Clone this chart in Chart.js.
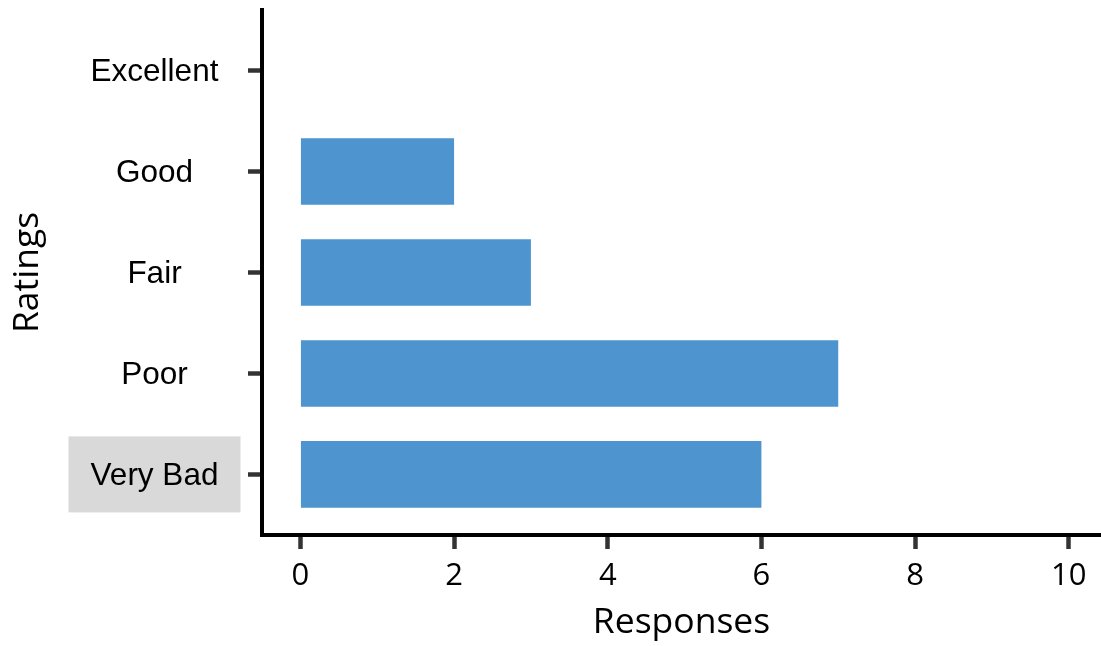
<!DOCTYPE html>
<html>
<head>
<meta charset="UTF-8">
<title>Ratings</title>
<script src="https://cdn.jsdelivr.net/npm/chart.js"></script>
<style>
  html, body { margin: 0; padding: 0; background: #fff; }
  #chart { display: block; }
</style>
</head>
<body>
<canvas id="chart" width="1101" height="646"></canvas>
<script>
// data, top to bottom
const ratings = ['Excellent', 'Good', 'Fair', 'Poor', 'Very Bad'];
const responses = [0, 2, 3, 7, 6];
const xTicks = [0, 2, 4, 6, 8, 10];
const highlighted = 'Very Bad';

const labelFont = { family: 'Liberation Sans, Arial, sans-serif', size: 31.5 };
const numFont = { family: 'Open Sans, sans-serif', size: 31 };
const titleFont = { family: 'Open Sans, sans-serif', size: 35.5 };

// grey box behind the highlighted category label
const highlightBox = {
    id: 'highlightBox',
    beforeDatasetsDraw(chart) {
        const y = chart.scales.y;
        const idx = ratings.indexOf(highlighted);
        if (idx < 0) return;
        const cy = y.getPixelForValue(idx);
        const cx = 154.5;
        const c = chart.ctx;
        c.save();
        c.fillStyle = '#d9d9d9';
        c.fillRect(cx - 86, cy - 38, 172, 76);
        c.restore();
    }
};

// y labels, centred in the label column, drawn over the box
const labelsOnTop = {
    id: 'labelsOnTop',
    afterDraw(chart) {
        const y = chart.scales.y;
        const c = chart.ctx;
        c.save();
        c.font = labelFont.size + 'px ' + labelFont.family;
        c.fillStyle = '#000';
        c.textAlign = 'center';
        c.textBaseline = 'middle';
        ratings.forEach((r, i) => {
            c.fillText(r, 154.5, y.getPixelForValue(i) + 2);
        });
        c.restore();
    }
};

const ctx = document.getElementById('chart').getContext('2d');
new Chart(ctx, {
    type: 'bar',
    data: {
        datasets: [{
            data: ratings.map((r, i) => ({ x: responses[i], y: i })),
            backgroundColor: '#4e94ce',
            borderWidth: 0,
            barPercentage: 0.66,
            categoryPercentage: 1
        }]
    },
    options: {
        indexAxis: 'y',
        responsive: false,
        animation: false,
        layout: { padding: { top: 10, right: 0, bottom: 0, left: 0 } },
        plugins: { legend: { display: false }, tooltip: { enabled: false } },
        scales: {
            x: {
                type: 'linear',
                min: -0.5,
                max: 10.42,
                afterBuildTicks(s) { s.ticks = xTicks.map(v => ({ value: v })); },
                afterFit(s) { s.height = 111; },
                border: { display: true, color: '#000', width: 4 },
                grid: { drawOnChartArea: false, drawTicks: true, tickLength: 14, tickWidth: 4.5, tickColor: '#333' },
                ticks: { color: '#000', font: numFont, padding: 9 },
                title: { display: true, text: 'Responses', color: '#000', font: titleFont, padding: { top: 0, bottom: 2 } }
            },
            y: {
                type: 'linear',
                reverse: true,
                offset: false,
                min: -0.6,
                max: 4.6,
                afterBuildTicks(s) { s.ticks = ratings.map((r, i) => ({ value: i })); },
                afterFit(s) { s.width = 262; },
                border: { display: true, color: '#000', width: 4 },
                grid: { offset: false, drawOnChartArea: false, drawTicks: true, tickLength: 14, tickWidth: 4.5, tickColor: '#333' },
                ticks: { display: false, font: labelFont, padding: 29 },
                title: { display: true, text: 'Ratings', color: '#000', font: titleFont, padding: { top: 7, bottom: 0 } }
            }
        }
    },
    plugins: [highlightBox, labelsOnTop]
});
</script>
</body>
</html>
